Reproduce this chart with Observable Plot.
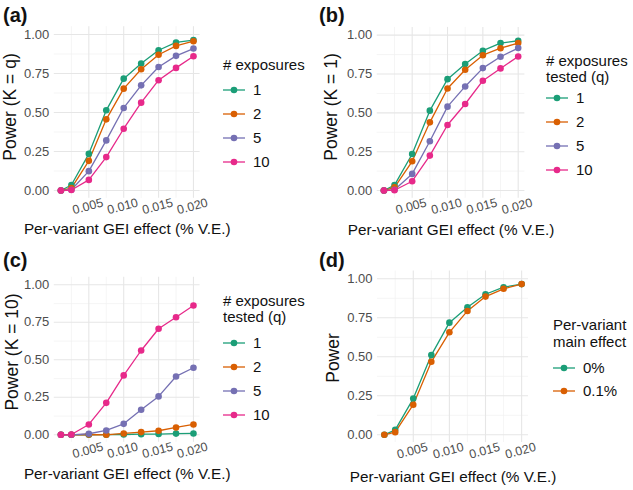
<!DOCTYPE html>
<html>
<head>
<meta charset="utf-8">
<script src="https://cdn.jsdelivr.net/npm/d3@7"></script>
<script src="https://cdn.jsdelivr.net/npm/@observablehq/plot@0.6"></script>
<style>
  html, body { margin: 0; padding: 0; background: #fff; }
  #root { position: relative; width: 633px; height: 490px; background: #fff; overflow: hidden; }
  .panel { position: absolute; }
</style>
</head>
<body>
<div id="root"></div>
<script>
// ---- data ----
const gei = [0.001, 0.0025, 0.005, 0.0075, 0.01, 0.0125, 0.015, 0.0175, 0.02];
const exposures = ["1", "2", "5", "10"];
const mainEffects = ["0%", "0.1%"];
const xTicks = [0.005, 0.01, 0.015, 0.02];
const xMinor = [0.0025, 0.0075, 0.0125, 0.0175];
const yTicks = [0, 0.25, 0.5, 0.75, 1];
const yMinor = [0.125, 0.375, 0.625, 0.875];
const dark2 = ["#1B9E77", "#D95F02", "#7570B3", "#E7298A"];

// (a) Power (K = q)
const powerA_1  = [0, 0.035, 0.235, 0.514, 0.717, 0.814, 0.899, 0.949, 0.964];
const powerA_2  = [0, 0.015, 0.190, 0.456, 0.653, 0.777, 0.870, 0.927, 0.957];
const powerA_5  = [0, 0.005, 0.124, 0.321, 0.529, 0.674, 0.792, 0.863, 0.910];
const powerA_10 = [0, 0.003, 0.068, 0.214, 0.396, 0.563, 0.707, 0.786, 0.861];
// (b) Power (K = 1)
const powerB_1  = [0, 0.035, 0.235, 0.514, 0.717, 0.814, 0.900, 0.949, 0.964];
const powerB_2  = [0, 0.020, 0.188, 0.439, 0.657, 0.777, 0.871, 0.916, 0.949];
const powerB_5  = [0, 0.005, 0.107, 0.317, 0.540, 0.670, 0.788, 0.861, 0.917];
const powerB_10 = [0, 0.002, 0.060, 0.225, 0.422, 0.557, 0.707, 0.786, 0.863];
// (c) Power (K = 10)
const powerC_1  = [0, 0, 0, 0.001, 0.002, 0.004, 0.005, 0.008, 0.009];
const powerC_2  = [0, 0, 0.002, 0.000, 0.009, 0.018, 0.027, 0.049, 0.069];
const powerC_5  = [0, 0, 0.007, 0.029, 0.073, 0.167, 0.256, 0.389, 0.447];
const powerC_10 = [0, 0.002, 0.069, 0.213, 0.396, 0.562, 0.707, 0.784, 0.862];
// (d) Power by main effect
const powerD_0   = [0, 0.032, 0.232, 0.511, 0.719, 0.818, 0.901, 0.946, 0.966];
const powerD_0_1 = [0, 0.017, 0.193, 0.468, 0.657, 0.794, 0.886, 0.936, 0.966];

function table(keys, series) {
  return keys.flatMap((k, i) => gei.map((g, j) => ({gei: g, power: series[i][j], key: k})));
}

const FONT = "Liberation Sans, Arial, Helvetica, sans-serif";

function panel(cfg) {
  const W = cfg.width, H = 245;
  const data = table(cfg.keys, cfg.series);
  const svg = Plot.plot({
    width: W, height: H,
    marginLeft: cfg.xr[0], marginRight: W - cfg.xr[1],
    marginTop: cfg.yr[0], marginBottom: H - cfg.yr[1],
    style: {fontFamily: FONT, background: "transparent", overflow: "visible"},
    x: {domain: [0.00005, 0.02095], axis: null},
    y: {domain: [-0.05, 1.05], axis: null},
    color: {domain: cfg.keys, range: dark2.slice(0, cfg.keys.length)},
    marks: [
      Plot.ruleX(xMinor, {x: d => d, stroke: "#f1f1f1", strokeWidth: 0.7}),
      Plot.ruleY(yMinor, {y: d => d, stroke: "#f1f1f1", strokeWidth: 0.7}),
      Plot.ruleX(xTicks, {x: d => d, stroke: "#e6e6e6", strokeWidth: 1.1}),
      Plot.ruleY(yTicks, {y: d => d, stroke: "#e6e6e6", strokeWidth: 1.1}),
      Plot.text(yTicks, {y: d => d, frameAnchor: "left", dx: -5, textAnchor: "end",
        text: d => d.toFixed(2), fontSize: 13, fill: "#4d4d4d"}),
      Plot.text(xTicks, {x: d => d, frameAnchor: "bottom", dy: 12, rotate: -15,
        text: d => d.toFixed(3), fontSize: 12.5, fill: "#4d4d4d"}),
      Plot.text([cfg.xTitle], {frameAnchor: "bottom", dy: cfg.xTitleDy, fontSize: 15.3, fill: "#111"}),
      Plot.line(data, {x: "gei", y: "power", z: "key", stroke: "key", strokeWidth: 1.3}),
      Plot.dot(data, {x: "gei", y: "power", fill: "key", r: 3.3})
    ]
  });
  const g = d3.select(svg).append("g").attr("font-family", FONT).attr("fill", "#111")
    .attr("text-anchor", "start");
  // y axis title
  g.append("text").attr("transform", `translate(${cfg.yTitlePos[0]},${cfg.yTitlePos[1]}) rotate(-90)`)
    .attr("text-anchor", "middle").attr("dy", "0.35em").attr("font-size", 17.5).text(cfg.yTitle);
  // panel tag
  g.append("text").attr("x", 3).attr("y", 22).attr("font-size", 20).attr("font-weight", "bold")
    .attr("text-anchor", "start").text(cfg.tag);
  // legend
  const L = cfg.legend;
  L.title.forEach((t, i) => g.append("text").attr("x", L.x).attr("y", L.titleY[i]).attr("dy", "0.35em")
    .attr("text-anchor", "start").attr("font-size", 15).text(t));
  cfg.keys.forEach((k, i) => {
    const c = dark2[i], y = L.itemY[i];
    g.append("line").attr("x1", L.x).attr("x2", L.x + 22).attr("y1", y).attr("y2", y)
      .attr("stroke", c).attr("stroke-width", 1.3);
    g.append("circle").attr("cx", L.x + 11).attr("cy", y).attr("r", 3.3).attr("fill", c);
    g.append("text").attr("x", L.x + 30).attr("y", y).attr("dy", "0.35em")
      .attr("text-anchor", "start").attr("font-size", 15).text(k);
  });
  const div = document.createElement("div");
  div.className = "panel";
  div.style.left = cfg.left + "px";
  div.style.top = cfg.top + "px";
  div.appendChild(svg);
  document.getElementById("root").appendChild(div);
}

const xTitle = "Per-variant GEI effect (% V.E.)";

panel({tag: "(a)", left: 0, top: 0, width: 316, xr: [53.8, 199.6], yr: [26.2, 197.8],
  keys: exposures, series: [powerA_1, powerA_2, powerA_5, powerA_10],
  xTitle, xTitleDy: 35.5, yTitle: "Power (K = q)", yTitlePos: [10, 107],
  legend: {x: 223, title: ["# exposures"], titleY: [65], itemY: [90, 114, 138, 162]}});

panel({tag: "(b)", left: 316, top: 0, width: 317, xr: [60.7, 208.4], yr: [26.9, 197.8],
  keys: exposures, series: [powerB_1, powerB_2, powerB_5, powerB_10],
  xTitle, xTitleDy: 37, yTitle: "Power (K = 1)", yTitlePos: [15, 107],
  legend: {x: 230, title: ["# exposures", "tested (q)"], titleY: [61, 77], itemY: [98, 122, 146, 170]}});

panel({tag: "(c)", left: 0, top: 245, width: 316, xr: [53.8, 199.6], yr: [31.8, 196.8],
  keys: exposures, series: [powerC_1, powerC_2, powerC_5, powerC_10],
  xTitle, xTitleDy: 36.5, yTitle: "Power (K = 10)", yTitlePos: [11.7, 107],
  legend: {x: 223, title: ["# exposures", "tested (q)"], titleY: [56, 72], itemY: [98, 122, 146, 170]}});

panel({tag: "(d)", left: 316, top: 245, width: 317, xr: [61, 212], yr: [25.5, 197.1],
  keys: mainEffects, series: [powerD_0, powerD_0_1],
  xTitle, xTitleDy: 39.6, yTitle: "Power", yTitlePos: [16.7, 113],
  legend: {x: 237, title: ["Per-variant", "main effect"], titleY: [80, 97], itemY: [123, 146]}});
</script>
</body>
</html>
